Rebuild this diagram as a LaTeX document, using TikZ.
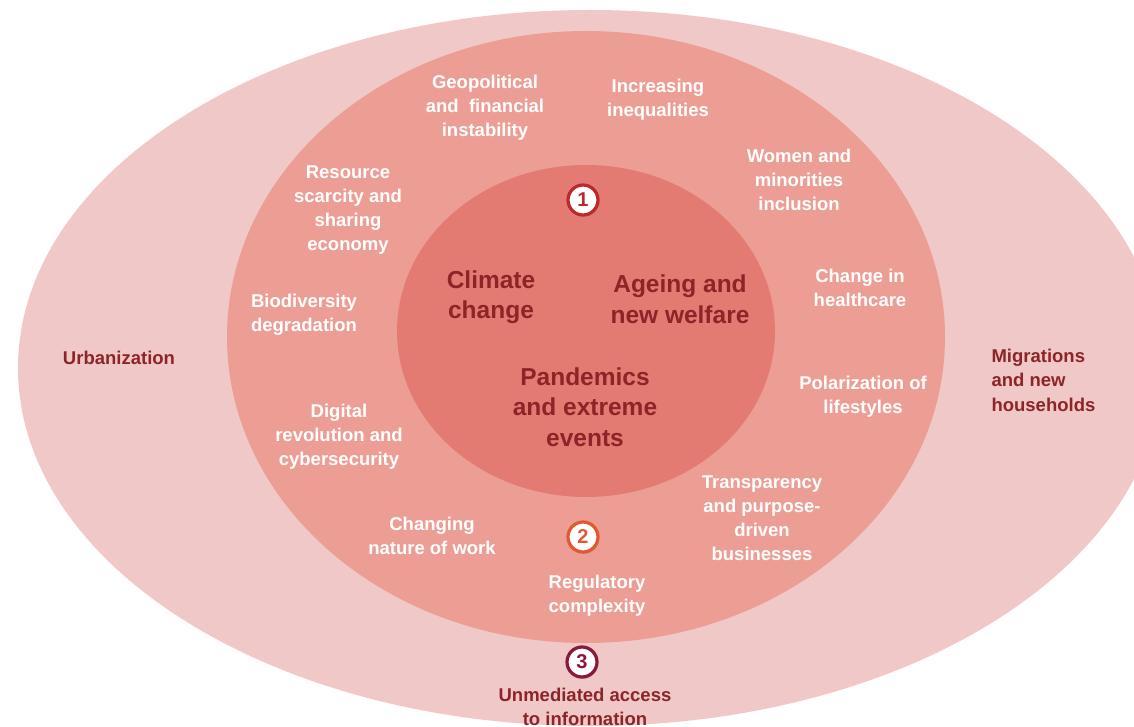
\documentclass[tikz,border=0pt]{standalone}
\usepackage{fontspec}
\setmainfont{Liberation Sans}
\usepackage{tikz}
\usetikzlibrary{shadows}
\definecolor{outerpink}{RGB}{240,200,200}
\definecolor{midpink}{RGB}{237,158,148}
\definecolor{corepink}{RGB}{228,123,115}
\definecolor{darkred}{RGB}{140,36,40}
\definecolor{badgeone}{RGB}{192,39,45}
\definecolor{badgetwo}{RGB}{228,87,50}
\definecolor{badgethree}{RGB}{139,24,58}
\tikzstyle{ringtext} = [text=white, align=center, font=\fontsize{18.5}{24}\selectfont\bfseries]
\tikzstyle{coretext} = [text=darkred, align=center, font=\fontsize{24.5}{30.5}\selectfont\bfseries]
\tikzstyle{outertext} = [text=darkred, font=\fontsize{18.5}{24.5}\selectfont\bfseries]
\tikzstyle{badge} = [circle, fill=white, line width=3.2pt, minimum size=30pt, inner sep=0pt, font=\fontsize{20}{20}\selectfont\bfseries, drop shadow={opacity=0.35, shadow xshift=1pt, shadow yshift=-2pt}]

\begin{document}
\begin{tikzpicture}[x=1pt,y=-1pt]
		\clip (0,0) rectangle (1134,727);
		% the three rings
		\fill[outerpink] (590,368) ellipse [x radius=572pt, y radius=358pt];
		\fill[midpink] (586,337) ellipse [x radius=359pt, y radius=306pt];
		\fill[corepink] (586,331) ellipse [x radius=189pt, y radius=166pt];

		\node[badge, draw=badgeone, text=badgeone] (one) at (583,200) {1};
		\node[badge, draw=badgetwo, text=badgetwo] (two) at (583,537) {2};
		\node[badge, draw=badgethree, text=badgethree] (three) at (582,662) {3};

		\node[coretext] (climate) at (491,297) {Climate\\change};
		\node[coretext] (ageing) at (680,299) {Ageing and\\new welfare};
		\node[coretext] (pandemics) at (585,407) {Pandemics\\and extreme\\events};

		\node[ringtext] (geopolitical) at (485,108) {Geopolitical\\and\ \ financial\\instability};
		\node[ringtext] (inequalities) at (658,100) {Increasing\\inequalities};
		\node[ringtext] (women) at (799,180) {Women and\\minorities\\inclusion};
		\node[ringtext] (resource) at (348,210) {Resource\\scarcity and\\sharing\\economy};
		\node[ringtext] (biodiversity) at (304,315) {Biodiversity\\degradation};
		\node[ringtext] (healthcare) at (860,288) {Change in\\healthcare};
		\node[ringtext] (polarization) at (863,397) {Polarization of\\lifestyles};
		\node[ringtext] (digital) at (339,437) {Digital\\revolution and\\cybersecurity};
		\node[ringtext] (work) at (432,536) {Changing\\nature of work};
		\node[ringtext] (transparency) at (762,518) {Transparency\\and purpose-\\driven\\businesses};
		\node[ringtext] (regulatory) at (597,596) {Regulatory\\complexity};

		\node[outertext] (urbanization) at (119,358) {Urbanization};
		\node[outertext, align=left, anchor=west] (migrations) at (988,380) {Migrations\\and new\\households};
		\node[outertext, align=center] (access) at (585,707) {Unmediated access\\to information};
	\end{tikzpicture}
\end{document}
